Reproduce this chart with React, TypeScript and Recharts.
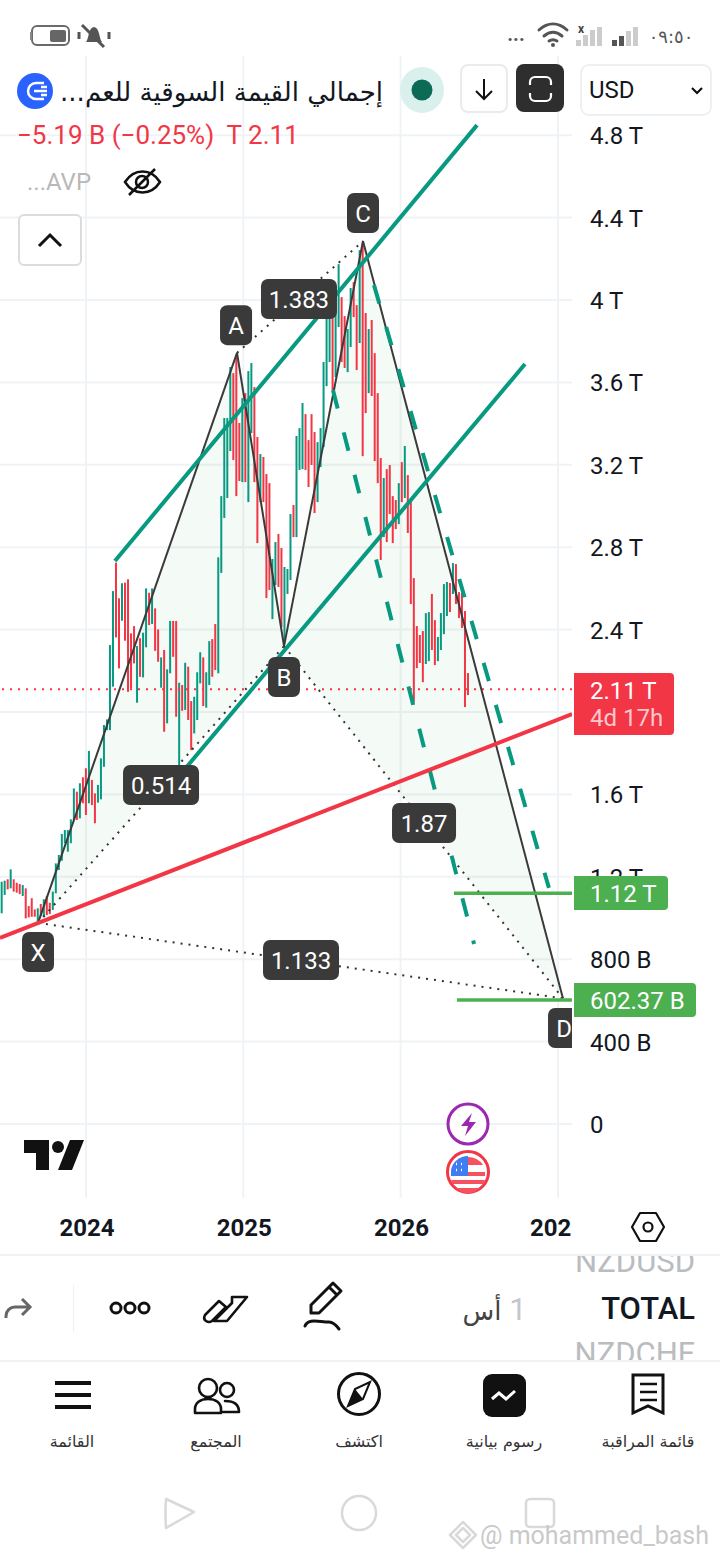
import { Area, Bar, CartesianGrid, ComposedChart, Line, ReferenceLine, Scatter, XAxis, YAxis } from "recharts";

const RED = "#f23645";
const TEAL = "#089981";
const GREEN = "#4caf50";
const DARK = "#3a3a3a";
const INK = "#131722";
const FONT = "Roboto, 'DejaVu Sans', sans-serif";
const ARABIC = "'DejaVu Sans', sans-serif";

const firstWeek = 2023.4639;
const weekStep = 0.019126;

// one thin bar per week, billions
const barHighs = [
  1176, 1181, 1188, 1236, 1188, 1171, 1165, 1160, 1144, 1058, 1096, 1042, 1047, 1068, 1091, 1107, 1074, 1128, 1265, 1306,
  1408, 1427, 1427, 1479, 1629, 1613, 1654, 1683, 1727, 1811, 1670, 1605, 1646, 1775, 1937, 1964, 2325, 2587, 2725, 2552,
  2625, 2628, 2644, 2382, 2417, 2320, 2358, 2385, 2600, 2579, 2600, 2503, 2401, 2265, 2301, 2207, 2442, 2442, 2442, 2142,
  2131, 2239, 2220, 2053, 2074, 2193, 2290, 2265, 2193, 2344, 2354, 2427, 2751, 3048, 3427, 3427, 3675, 3645, 3733, 3403,
  3524, 3548, 3655, 3694, 3577, 3335, 3252, 3238, 3155, 3111, 2743, 2825, 2864, 2796, 2704, 2694, 2961, 3005, 3340, 3378,
  3500, 3446, 3320, 3446, 3359, 3310, 3378, 3699, 3927, 3941, 3937, 3961, 4174, 4014, 3922, 3859, 4058, 4087, 3975, 4242,
  4281, 3937, 3859, 3903, 3742, 3548, 3233, 3136, 3179, 3199, 3048, 3029, 3111, 3213, 3291, 3150, 3034, 2650, 2417, 2374,
  2393, 2480, 2485, 2573, 2446, 2364, 2480, 2621, 2631, 2626, 2723, 2718, 2582, 2578, 2490, 2189,
];
const barLows = [
  1023, 1112, 1139, 1144, 1128, 1123, 1116, 1107, 998, 1003, 1006, 1006, 977, 1010, 1006, 1014, 1019, 1039, 1120, 1233,
  1278, 1363, 1322, 1363, 1476, 1476, 1484, 1557, 1500, 1557, 1548, 1460, 1560, 1576, 1734, 1912, 1912, 2123, 2362, 2212,
  2443, 2346, 2098, 2115, 2236, 2045, 2171, 2168, 2314, 2422, 2427, 2297, 2244, 2118, 1904, 1945, 2188, 2268, 1977, 1718,
  2006, 2010, 1961, 1815, 1896, 1961, 2139, 2029, 2021, 2131, 2171, 2204, 2188, 2675, 2942, 3039, 3267, 3223, 3048, 3121,
  3116, 3116, 3019, 3354, 3116, 2820, 3019, 3019, 2553, 2592, 2451, 2616, 2607, 2412, 2335, 2573, 2641, 2849, 2849, 3175,
  3179, 3175, 3092, 3199, 2966, 3019, 3189, 3286, 3582, 3699, 3563, 3626, 3869, 3699, 3670, 3650, 3772, 3917, 3660, 3791,
  3242, 3451, 3548, 3534, 3218, 3111, 2738, 2849, 2825, 2961, 2820, 2888, 2912, 3019, 3039, 2869, 2524, 2048, 2213, 2238,
  2145, 2233, 2247, 2301, 2228, 2247, 2301, 2378, 2466, 2485, 2573, 2524, 2456, 2408, 2024, 2082,
];
const barDirections =
  "GGRGRRRGRRRRGRGRRGGG" +
  "GGGGGRGRRGRRGGGGGGRR" +
  "GRRRRGRGGRGRRGRGGRRG" +
  "RGRRGGGRGGRRGGGGGRRR" +
  "GRGGRRGRRRGGRRGGGRGG" +
  "GRRRRGGGGGRGGRRGGRRG" +
  "RRGRRRRGRRRRGRGRRRRR" +
  "RGGRRGGGGRGRRRRR";

const candleRows = barHighs.map((high, i) => ({
  x: firstWeek + i * weekStep,
  range: [barLows[i], high],
  dir: barDirections[i],
}));

const xTicks = [2024, 2025, 2026, 2027];
const xTickLabels = ["2024", "2025", "2026", "202"];
const yTicks = [0, 400, 800, 1200, 1600, 2000, 2400, 2800, 3200, 3600, 4000, 4400, 4800];

const pointX = { x: 2023.695, v: 976 };
const pointA = { x: 2024.96, v: 3743 };
const pointB = { x: 2025.259, v: 2320 };
const pointC = { x: 2025.761, v: 4286 };
const pointD = { x: 2027.032, v: 610 };

const triangleXAB = [
  { x: pointX.x, band: [976, 976] },
  { x: pointA.x, band: [2063, 3743] },
  { x: pointB.x, band: [2320, 2320] },
];
const triangleBCD = [
  { x: pointB.x, band: [2320, 2320] },
  { x: pointC.x, band: [1836, 4286] },
  { x: pointD.x, band: [610, 610] },
];

const solidLegs = [[pointX, pointA], [pointA, pointB], [pointB, pointC], [pointC, pointD]];
const dottedLegs = [[pointX, pointB], [pointA, pointC], [pointB, pointD], [pointX, pointD]];

const channelUpper = [{ x: 2024.184, v: 2733 }, { x: 2026.486, v: 4849 }];
const channelLower = [{ x: 2024.591, v: 1689 }, { x: 2026.791, v: 3689 }];
const dashedUpper = [{ x: 2025.831, v: 4072 }, { x: 2026.943, v: 1146 }];
const dashedLower = [{ x: 2025.57, v: 3563 }, { x: 2026.467, v: 874 }];
const redTrend = [{ x: 2023.453, v: 903 }, { x: 2027.09, v: 1990 }];
const target112 = [{ x: 2026.339, v: 1120 }, { x: 2027.09, v: 1120 }];
const target602 = [{ x: 2026.358, v: 602.37 }, { x: 2027.09, v: 602.37 }];
const lastPrice = 2110;

const badgeLabels = ["A", "C", "B", "X", "D", "1.383", "0.514", "1.87", "1.133"];
const badgeYears = [2024.954, 2025.761, 2025.259, 2023.695, 2027.039, 2025.354, 2024.477, 2026.149, 2025.367];
const badgeValues = [3878, 4422, 2170, 835, 466, 4005, 1646, 1461, 796];
const badgeRows = badgeLabels.map((label, i) => ({ label, x: badgeYears[i], v: badgeValues[i] }));

// the 2 T label sits behind the live price tag
const formatPrice = (v: number) => (v === 0 ? "0" : v === 2000 ? "" : v >= 1000 ? `${v / 1000} T` : `${v} B`);

function WeekBar({ x, y, width, height, payload }: any) {
  const top = Math.min(y, y + height);
  return <rect x={x + width / 2 - 1} y={top} width={2} height={Math.abs(height)} fill={payload.dir === "G" ? TEAL : RED} />;
}

function BadgeShape({ cx, cy, payload }: any) {
  const w = Math.max(32, 16 + 12 * payload.label.length);
  return (
    <g clipPath="url(#plot-clip)">
      <rect x={cx - w / 2} y={cy - 20} width={w} height={40} rx={7} fill={DARK} />
      <text x={cx} y={cy + 9} textAnchor="middle" fill="#fff" fontSize={24} fontFamily={FONT}>
        {payload.label}
      </text>
    </g>
  );
}

function YearTick({ x, y, payload }: any) {
  const label = xTickLabels[xTicks.indexOf(payload.value)];
  const clipped = label.length < 4;
  return (
    <text
      x={clipped ? x - 28 : x + 1}
      y={y + 36}
      textAnchor={clipped ? "start" : "middle"}
      fontSize={24}
      fontWeight={700}
      fontFamily={FONT}
      fill={INK}
    >
      {label}
    </text>
  );
}

function PriceTag({ x, y, w, h, fill, children }: any) {
  return (
    <g>
      <path d={`M${x} ${y}H${x + w - 4}a4 4 0 0 1 4 4V${y + h - 4}a4 4 0 0 1 -4 4H${x}Z`} fill={fill} />
      {children}
    </g>
  );
}

function Overlay() {
  const txt = { fontFamily: FONT };
  const icon = { fill: "none", stroke: "#111", strokeWidth: 3, strokeLinecap: "round" as const, strokeLinejoin: "round" as const };
  const soft = { fill: "none", stroke: "#d9d9d9", strokeWidth: 2.5, strokeLinejoin: "round" as const };
  return (
    <svg width={720} height={1560} style={{ position: "absolute", left: 0, top: 0 }}>
      {/* status bar */}
      <rect x={32} y={26} width={37} height={19} rx={5} fill="#fff" stroke="#6b6b6b" strokeWidth={2} />
      <rect x={50} y={30} width={16} height={12} rx={2} fill="#666" />
      <rect x={30} y={32} width={2} height={8} fill="#888" />
      <path d="M86 42c3-3 2-14 8-15 6 1 5 12 8 15z" fill="#555" />
      <path d="M82 25l22 22M79 32v7M109 32v7" stroke="#555" strokeWidth={3} />
      <text x={516} y={41} textAnchor="middle" fontSize={20} fontWeight={700} fill="#555" style={txt}>...</text>
      <path d="M539 30c9-8 19-8 28 0M544 36c6-5 12-5 18 0M549 41c3-2 5-2 8 0" {...icon} stroke="#555" />
      <circle cx={553} cy={45} r={2} fill="#555" />
      <text x={581} y={33} textAnchor="middle" fontSize={12} fontWeight={700} fill="#444" style={txt}>x</text>
      <path d="M576 40h5v6h-5zM583 35h5v11h-5zM590 30h5v16h-5zM597 27h5v19h-5z" fill="#ccc" />
      <path d="M612 40h5v6h-5zM619 36h5v10h-5z" fill="#555" />
      <path d="M626 31h5v15h-5zM633 27h5v19h-5z" fill="#ccc" />
      <text x={671} y={43} textAnchor="middle" fontSize={18} fill="#555" fontFamily={ARABIC}>٠٩:٥٠</text>

      {/* header */}
      <circle cx={35} cy={91} r={18} fill="#2962ff" />
      <path d="M44 83H36a8 8 0 0 0 0 16h8M34 91h13M41 87h6M41 95h6" fill="none" stroke="#fff" strokeWidth={2.5} />
      <text x={383} y={101} direction="rtl" fontSize={26} fill={INK} fontFamily={ARABIC}>إجمالي القيمة السوقية للعم...</text>
      <ellipse cx={422} cy={90} rx={22} ry={23} fill="#daf0ec" />
      <circle cx={422} cy={90} r={10.5} fill="#0b6b57" />
      <rect x={461} y={65} width={46} height={47} rx={7} fill="#fff" stroke="#e8ecee" strokeWidth={2} />
      <path d="M484 79v20M476 91l8 8 8-8" fill="none" stroke="#111" strokeWidth={2} />
      <rect x={516} y={64} width={48} height={48} rx={8} fill="#2e2e2e" />
      <path d="M530 85v-3a5 5 0 0 1 5-5h11a5 5 0 0 1 5 5v3M530 93v3a5 5 0 0 0 5 5h11a5 5 0 0 0 5-5v-3" fill="none" stroke="#fff" strokeWidth={2.2} />
      <rect x={581} y={65} width={130} height={50} rx={8} fill="#fff" stroke="#edf0f2" strokeWidth={2} />
      <text x={589} y={98} fontSize={24} fill={INK} style={txt}>USD</text>
      <path d="M692 88l5 5 5-5" fill="none" stroke="#111" strokeWidth={2.2} />
      <text x={17} y={144} fontSize={26} fill={RED} style={{ ...txt, whiteSpace: "pre" }}>−5.19 B (−0.25%)  T 2.11</text>
      <text x={27} y={190} fontSize={24} fill="#b8b8b8" style={txt}>...AVP</text>
      <path d="M125 182c9-14 26-14 35 0-9 14-26 14-35 0zM129 195l26-26" fill="none" stroke="#111" strokeWidth={2.5} />
      <circle cx={142} cy={182} r={6} fill="none" stroke="#111" strokeWidth={2.5} />
      <rect x={19} y={215} width={62} height={50} rx={5} fill="#fff" stroke="#dcdcdc" strokeWidth={2} />
      <path d="M39 246l11-11 11 11" fill="none" stroke="#111" strokeWidth={3} />

      {/* price tags */}
      <PriceTag x={574} y={673} w={100} h={62} fill={RED}>
        <text x={590} y={699} fontSize={24} fill="#fff" style={txt}>2.11 T</text>
        <text x={590} y={726} fontSize={24} fill="#fcc8cd" style={txt}>4d 17h</text>
      </PriceTag>
      <PriceTag x={574} y={876} w={94} h={34} fill={GREEN}>
        <text x={590} y={902} fontSize={24} fill="#fff" style={txt}>1.12 T</text>
      </PriceTag>
      <PriceTag x={574} y={983} w={122} h={34} fill={GREEN}>
        <text x={590} y={1009} fontSize={24} fill="#fff" style={txt}>602.37 B</text>
      </PriceTag>

      {/* logo and event marks */}
      <path d="M24 1140h25v30h-13v-17h-12zM70 1140h14l-12 30h-14z" fill="#111" />
      <circle cx={58} cy={1147} r={6} fill="#111" />
      <circle cx={468} cy={1124} r={20} fill="#fff" stroke="#9c27b0" strokeWidth={3} />
      <path d="M472 1113l-11 13h7l-3 10 11-14h-7z" fill="#9c27b0" />
      <circle cx={468} cy={1172} r={20.5} fill="#fff" stroke={RED} strokeWidth={3} />
      <path d="M453 1165a18 18 0 0 1 30 0zM451 1172h34v4h-34zM451 1180h34l-1 4h-32zM456 1188h24a16 16 0 0 1-24 0z" fill="#f7505e" />
      <path d="M451 1176v-6a17 17 0 0 1 17-14v20z" fill="#3f7df0" />
      <path d="M456 1164h1M461 1164h1M456 1170h1M461 1170h1" stroke="#fff" strokeWidth={2.5} />

      {/* settings hexagon */}
      <path d="M640 1213h16l8 14-8 14h-16l-8-14z" fill="#fff" stroke="#111" strokeWidth={2.2} strokeLinejoin="round" />
      <circle cx={648} cy={1227} r={4.5} fill="none" stroke="#111" strokeWidth={2.2} />

      {/* symbol picker */}
      <rect x={0} y={1254} width={720} height={2} fill="#f0f3f5" />
      <rect x={0} y={1360} width={720} height={2} fill="#f0f3f5" />
      <svg x={560} y={1256} width={160} height={104}>
        <text x={135} y={16} textAnchor="end" fontSize={31} fill="#b9bcc0" style={txt}>NZDUSD</text>
        <text x={135} y={63} textAnchor="end" fontSize={31} fontWeight={500} fill={INK} style={txt}>TOTAL</text>
        <text x={135} y={108} textAnchor="end" fontSize={31} fill="#b9bcc0" style={txt}>NZDCHF</text>
      </svg>
      <text x={518} y={1320} textAnchor="middle" fontSize={31} fill="#c4c6c9" style={txt}>1</text>
      <text x={482} y={1320} textAnchor="middle" fontSize={26} fill="#444" fontFamily={ARABIC}>أس</text>
      <path d="M6 1318v-2a9 9 0 0 1 9-9h14M22 1299l8 8-8 8" fill="none" stroke="#666" strokeWidth={3} />
      <rect x={73} y={1285} width={1} height={47} fill="#eef0f2" />
      <circle cx={116} cy={1308} r={5} {...icon} />
      <circle cx={130} cy={1308} r={5} {...icon} />
      <circle cx={144} cy={1308} r={5} {...icon} />
      <path d="M205 1315l14-14 7 6-14 14q-3 2-6 0t-1-6zM220 1321l-6 0 18-18 0-6 15 0-20 24z" {...icon} strokeWidth={2.6} />
      <path d="M311 1305l22-22 8 8-22 22h-8zM329 1287l8 8M305 1326c3-8 14-4 24-4 4 0 7 3 10 7" {...icon} />

      {/* bottom navigation */}
      <path d="M55 1383h36M55 1395h36M55 1407h36" fill="none" stroke="#111" strokeWidth={4} />
      <text x={72} y={1447} textAnchor="middle" fontSize={16} fill="#333" fontFamily={ARABIC}>القائمة</text>
      <circle cx={208} cy={1388} r={9} {...icon} strokeWidth={2.6} />
      <circle cx={227} cy={1390} r={7} {...icon} strokeWidth={2.6} />
      <path d="M195 1413v-4c0-6 5-10 13-10s13 4 13 10v4zM225 1401c9 0 14 3 14 11h-16" {...icon} strokeWidth={2.6} />
      <text x={216} y={1447} textAnchor="middle" fontSize={16} fill="#333" fontFamily={ARABIC}>المجتمع</text>
      <circle cx={359} cy={1394} r={20.5} fill="none" stroke="#111" strokeWidth={3} />
      <path d="M370 1382l-7 17-15 7 7-17z" fill="#fff" stroke="#111" strokeWidth={2} />
      <path d="M355 1389l-7 17 15-7z" fill="#111" />
      <text x={359} y={1447} textAnchor="middle" fontSize={16} fill="#333" fontFamily={ARABIC}>اكتشف</text>
      <rect x={483} y={1374} width={43} height={43} rx={9} fill="#111" />
      <path d="M492 1399l7-6 7 6 9-8" fill="none" stroke="#fff" strokeWidth={3} />
      <text x={504} y={1447} textAnchor="middle" fontSize={16} fill="#333" fontFamily={ARABIC}>رسوم بيانية</text>
      <path d="M633 1375h30v38l-15-7-15 7z" fill="none" stroke="#111" strokeWidth={3} />
      <path d="M640 1384h17M640 1392h17M640 1400h17" stroke="#111" strokeWidth={2.5} />
      <text x={648} y={1447} textAnchor="middle" fontSize={16} fill="#333" fontFamily={ARABIC}>قائمة المراقبة</text>

      {/* android keys and watermark */}
      <path d="M166 1499l28 13-28 16q-1-15 0-29z" {...soft} />
      <circle cx={359} cy={1513} r={17} {...soft} />
      <rect x={526} y={1499} width={28} height={28} rx={4} {...soft} />
      <path d="M463 1522l13 13-13 13-13-13zM463 1528l7 7-7 7-7-7z" {...soft} />
      <text x={480} y={1544} fontSize={25} fill="#c9c9c9" style={txt}>@ mohammed_bash</text>
    </svg>
  );
}

export default function App() {
  const tool = { dataKey: "v", dot: false, activeDot: false, legendType: "none" as const, isAnimationActive: false };
  return (
    <div style={{ position: "absolute", left: 0, top: 0, width: 720, height: 1560, background: "#fff", overflow: "hidden" }}>
      <ComposedChart width={720} height={1560} data={candleRows} margin={{ top: 56, right: 0, bottom: 302, left: 0 }}>
        <defs>
          <clipPath id="plot-clip">
            <rect x={0} y={56} width={572} height={1142} />
          </clipPath>
        </defs>
        <CartesianGrid stroke="#f0f3f5" strokeWidth={2} syncWithTicks />
        <XAxis
          type="number"
          dataKey="x"
          domain={[2023.4533, 2027.0897]}
          allowDataOverflow
          ticks={xTicks}
          interval={0}
          height={60}
          axisLine={false}
          tickLine={false}
          tickSize={0}
          tick={<YearTick />}
        />
        <YAxis
          type="number"
          orientation="right"
          domain={[-359.2, 5184.5]}
          allowDataOverflow
          ticks={yTicks}
          interval={0}
          width={148}
          axisLine={false}
          tickLine={false}
          tickSize={0}
          tickMargin={18}
          tickFormatter={formatPrice}
          tick={{ fill: INK, fontSize: 24, fontFamily: FONT, dy: 0.5 }}
        />
        <Area data={triangleXAB} dataKey="band" type="linear" stroke="none" fill={GREEN} fillOpacity={0.06} dot={false} activeDot={false} isAnimationActive={false} />
        <Area data={triangleBCD} dataKey="band" type="linear" stroke="none" fill={GREEN} fillOpacity={0.06} dot={false} activeDot={false} isAnimationActive={false} />
        <ReferenceLine y={lastPrice} stroke={RED} strokeWidth={2} strokeDasharray="2 6" />
        <Bar dataKey="range" barSize={2} shape={<WeekBar />} isAnimationActive={false} />
        <Scatter data={badgeRows} dataKey="v" shape={<BadgeShape />} isAnimationActive={false} />
        {dottedLegs.map((leg, i) => (
          <Line key={`dot-${i}`} {...tool} data={leg} stroke="#333" strokeWidth={2} strokeDasharray="2 6" />
        ))}
        {solidLegs.map((leg, i) => (
          <Line key={`leg-${i}`} {...tool} data={leg} stroke={DARK} strokeWidth={2} />
        ))}
        <Line {...tool} data={channelUpper} stroke={TEAL} strokeWidth={4} />
        <Line {...tool} data={channelLower} stroke={TEAL} strokeWidth={4} />
        <Line {...tool} data={dashedUpper} stroke={TEAL} strokeWidth={4} strokeDasharray="19 24.7" />
        <Line {...tool} data={dashedLower} stroke={TEAL} strokeWidth={4} strokeDasharray="19 24.7" />
        <Line {...tool} data={redTrend} stroke={RED} strokeWidth={4} />
        <Line {...tool} data={target112} stroke={GREEN} strokeWidth={3.5} />
        <Line {...tool} data={target602} stroke={GREEN} strokeWidth={3.5} />
      </ComposedChart>
      <Overlay />
    </div>
  );
}
